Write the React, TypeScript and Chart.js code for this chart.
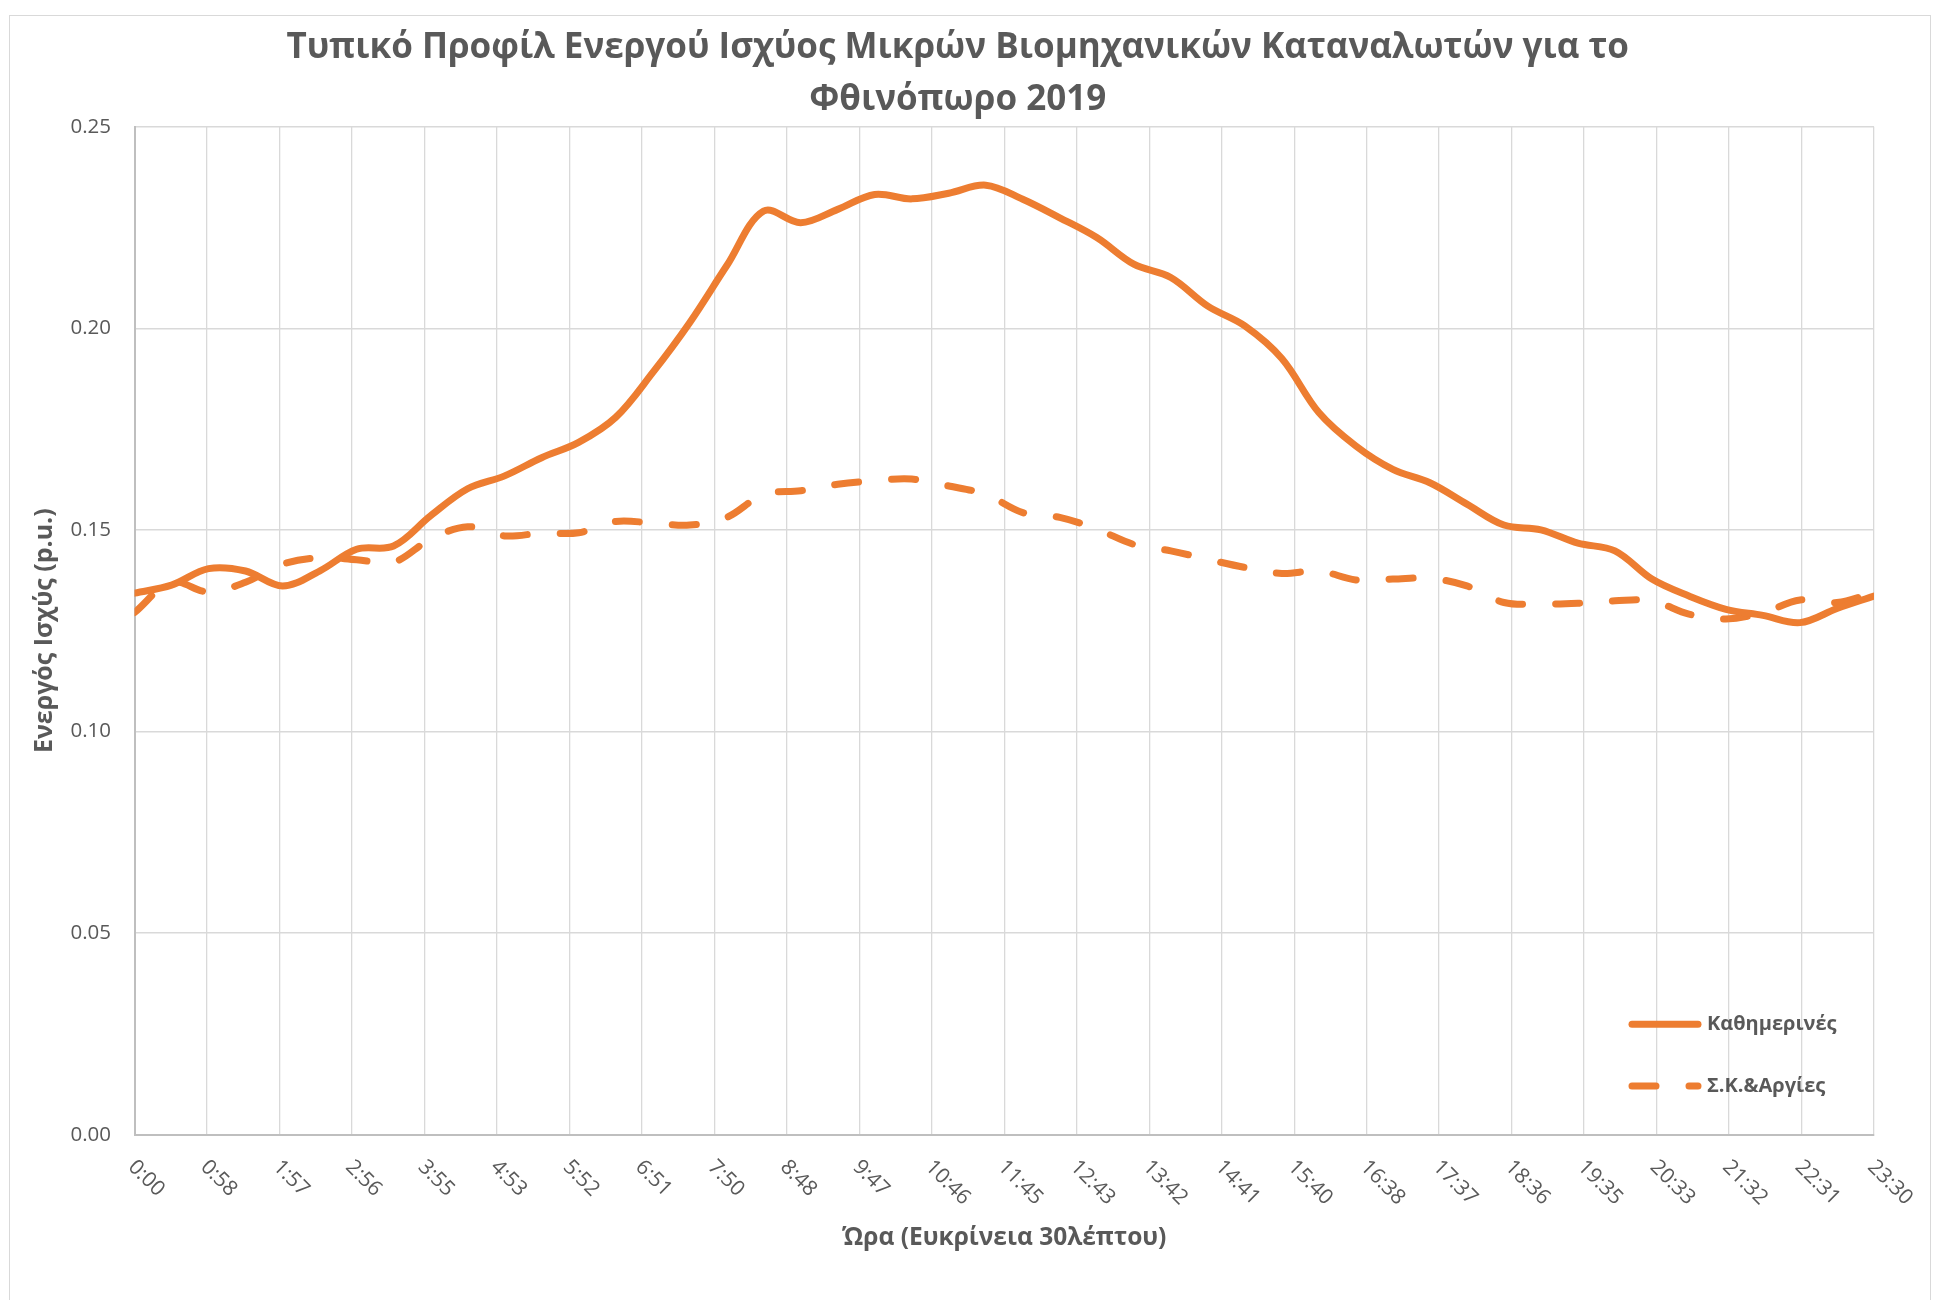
import React, { useEffect, useRef } from "react";
import { Chart, registerables } from "chart.js";

Chart.register(...registerables);

const TITLE_LINES = [
  "Τυπικό Προφίλ Ενεργού Ισχύος Μικρών Βιομηχανικών Καταναλωτών για το",
  "Φθινόπωρο 2019",
];
const X_TITLE = "Ώρα (Ευκρίνεια 30λέπτου)";
const Y_TITLE = "Ενεργός Ισχύς (p.u.)";
const SERIES_NAMES = ["Καθημερινές", "Σ.Κ.&Αργίες"];

const TIMES = [
  "0:00", "0:30", "1:00", "1:30", "2:00", "2:30", "3:00", "3:30",
  "4:00", "4:30", "5:00", "5:30", "6:00", "6:30", "7:00", "7:30",
  "8:00", "8:30", "9:00", "9:30", "10:00", "10:30", "11:00", "11:30",
  "12:00", "12:30", "13:00", "13:30", "14:00", "14:30", "15:00", "15:30",
  "16:00", "16:30", "17:00", "17:30", "18:00", "18:30", "19:00", "19:30",
  "20:00", "20:30", "21:00", "21:30", "22:00", "22:30", "23:00", "23:30",
];

const X_TICK_LABELS = [
  "0:00", "0:58", "1:57", "2:56", "3:55", "4:53", "5:52", "6:51", "7:50",
  "8:48", "9:47", "10:46", "11:45", "12:43", "13:42", "14:41", "15:40",
  "16:38", "17:37", "18:36", "19:35", "20:33", "21:32", "22:31", "23:30",
];

const Y_TICKS = [0, 0.05, 0.1, 0.15, 0.2, 0.25];

const WEEKDAYS = [
  0.1343, 0.1363, 0.1404, 0.1398, 0.1361, 0.1398, 0.1452, 0.1460,
  0.1535, 0.1602, 0.1634, 0.1679, 0.1717, 0.1779, 0.1890, 0.2014,
  0.2155, 0.2291, 0.2262, 0.2295, 0.2332, 0.2321, 0.2335, 0.2355,
  0.2320, 0.2274, 0.2225, 0.2159, 0.2126, 0.2055, 0.2006, 0.1925,
  0.1791, 0.1708, 0.1650, 0.1617, 0.1564, 0.1512, 0.1500, 0.1467,
  0.1448, 0.1378, 0.1336, 0.1303, 0.1288, 0.1270, 0.1305, 0.1336,
];

const WEEKENDS = [
  0.1295, 0.1370, 0.1346, 0.1370, 0.1415, 0.1431, 0.1426, 0.1420,
  0.1477, 0.1508, 0.1485, 0.1492, 0.1493, 0.1521, 0.1517, 0.1512,
  0.1531, 0.1588, 0.1597, 0.1613, 0.1622, 0.1626, 0.1609, 0.1588,
  0.1543, 0.1531, 0.1502, 0.1464, 0.1448, 0.1427, 0.1407, 0.1392,
  0.1398, 0.1376, 0.1378, 0.1380, 0.1361, 0.1320, 0.1316, 0.1318,
  0.1324, 0.1324, 0.1291, 0.1279, 0.1295, 0.1326, 0.1320, 0.1345,
];

const ORANGE = "#ED7D31";
const TEXT = "#595959";
const FONT = '"Open Sans", "Noto Sans", sans-serif';

function toMinutes(t: string): number {
  const [h, m] = t.split(":").map(Number);
  return h * 60 + m;
}

const X_MAX = toMinutes(TIMES[TIMES.length - 1]);

const rotatedXTicks = {
  id: "rotatedXTicks",
  afterDraw(chart: any) {
    const s = chart.scales.x;
    const ctx = chart.ctx;
    ctx.save();
    ctx.font = `21px ${FONT}`;
    ctx.fillStyle = TEXT;
    ctx.textAlign = "left";
    ctx.textBaseline = "middle";
    s.ticks.forEach((t: any, i: number) => {
      const px = s.getPixelForValue(t.value);
      ctx.save();
      ctx.translate(px - 3, chart.chartArea.bottom + 29);
      ctx.rotate(Math.PI / 4);
      ctx.fillText(X_TICK_LABELS[i], 0, 0);
      ctx.restore();
    });
    ctx.restore();
  },
};

const insideLegend = {
  id: "insideLegend",
  afterDraw(chart: any) {
    const { ctx, chartArea } = chart;
    chart.data.datasets.forEach((ds: any, i: number) => {
      const y = chartArea.bottom - 110.5 + i * 61.7;
      ctx.save();
      ctx.strokeStyle = ds.borderColor;
      ctx.lineWidth = ds.borderWidth;
      ctx.lineCap = "round";
      ctx.setLineDash(ds.borderDash || []);
      ctx.beginPath();
      ctx.moveTo(chartArea.right - 242, y);
      ctx.lineTo(chartArea.right - 176, y);
      ctx.stroke();
      ctx.setLineDash([]);
      ctx.font = `bold 20px ${FONT}`;
      ctx.fillStyle = TEXT;
      ctx.textAlign = "left";
      ctx.textBaseline = "middle";
      ctx.fillText(ds.label, chartArea.right - 167, y);
      ctx.restore();
    });
  },
};

export default function App() {
  const ref = useRef<HTMLCanvasElement | null>(null);

  useEffect(() => {
    if (!ref.current) return;
    const xs = TIMES.map(toMinutes);
    const chart = new Chart(ref.current, {
      type: "line",
      data: {
        datasets: [
          {
            label: SERIES_NAMES[0],
            data: xs.map((x, i) => ({ x, y: WEEKDAYS[i] })),
            borderColor: ORANGE,
            backgroundColor: ORANGE,
            borderWidth: 7,
            tension: 0.35,
            pointRadius: 0,
            borderCapStyle: "round",
            borderJoinStyle: "round",
            fill: false,
          },
          {
            label: SERIES_NAMES[1],
            data: xs.map((x, i) => ({ x, y: WEEKENDS[i] })),
            borderColor: ORANGE,
            backgroundColor: ORANGE,
            borderWidth: 7,
            borderDash: [24, 33],
            tension: 0.35,
            pointRadius: 0,
            borderCapStyle: "round",
            borderJoinStyle: "round",
            fill: false,
          },
        ],
      },
      options: {
        responsive: false,
        maintainAspectRatio: false,
        animation: false,
        devicePixelRatio: 1,
        layout: { padding: { left: 41.4, right: 71, top: 0, bottom: 0 } },
        plugins: {
          legend: { display: false },
          tooltip: { enabled: false },
          title: {
            display: true,
            text: TITLE_LINES,
            color: TEXT,
            font: { family: FONT, size: 35, weight: "bold", lineHeight: 52 / 35 },
            padding: { top: 22.5, bottom: 0.2 },
          },
        },
        scales: {
          x: {
            type: "linear",
            min: 0,
            max: X_MAX,
            afterBuildTicks: (scale: any) => {
              scale.ticks = X_TICK_LABELS.map((_, i) => ({
                value: (i * X_MAX) / (X_TICK_LABELS.length - 1),
              }));
            },
            afterFit: (scale: any) => {
              scale.height = 165.3;
            },
            ticks: { display: false },
            grid: { color: "#d9d9d9", lineWidth: 1.3, drawTicks: false },
            border: { color: "#bfbfbf", width: 2 },
            title: {
              display: true,
              text: X_TITLE,
              color: TEXT,
              font: { family: FONT, size: 24.5, weight: "bold", lineHeight: 1.2 },
              padding: { top: 0, bottom: 47.3 },
            },
          },
          y: {
            type: "linear",
            min: 0,
            max: 0.25,
            afterBuildTicks: (scale: any) => {
              scale.ticks = Y_TICKS.map((v) => ({ value: v }));
            },
            afterFit: (scale: any) => {
              scale.width = 93.1;
            },
            ticks: {
              color: TEXT,
              font: { family: FONT, size: 20.5 },
              padding: 23.5,
              callback: (v: any) => Number(v).toFixed(2),
            },
            grid: { color: "#d9d9d9", lineWidth: 1.5, drawTicks: false },
            border: { color: "#bfbfbf", width: 2 },
            title: {
              display: true,
              text: Y_TITLE,
              color: TEXT,
              font: { family: FONT, size: 25, weight: "bold", lineHeight: 1.2 },
              padding: { top: -11.4, bottom: 0 },
            },
          },
        },
      },
      plugins: [rotatedXTicks, insideLegend],
    } as any);
    return () => chart.destroy();
  }, []);

  return (
    <div style={{ position: "fixed", left: 0, top: 0, width: 1945, height: 1300, overflow: "hidden", background: "#fff" }}>
      <canvas ref={ref} width={1945} height={1300} style={{ position: "absolute", left: 0, top: 0, width: 1945, height: 1300 }} />
      <div
        style={{
          position: "absolute",
          left: 9,
          top: 15,
          width: 1922,
          height: 1400,
          boxSizing: "border-box",
          border: "1px solid #d9d9d9",
          pointerEvents: "none",
        }}
      />
    </div>
  );
}
